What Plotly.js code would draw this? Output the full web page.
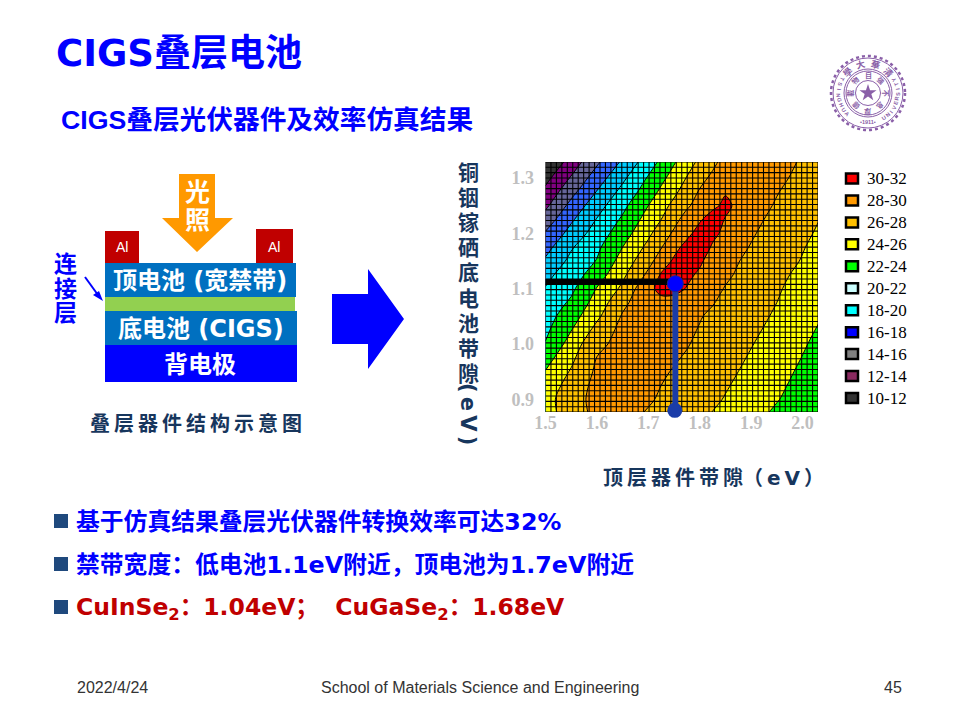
<!DOCTYPE html>
<html><head><meta charset="utf-8">
<script src="https://cdn.plot.ly/plotly-3.0.1.min.js"></script>
<style>html,body{margin:0;padding:0;background:#fff}#c{width:960px;height:720px}</style>
</head><body><div id="c"></div>
<script>
// ---- data ----
const topGap = [1.50,1.55,1.60,1.65,1.70,1.725,1.75,1.775,1.80,1.825,1.85,1.875,1.90,1.95,2.00,2.05];
const bottomGap = [0.85,0.90,0.95,1.00,1.05,1.075,1.10,1.125,1.15,1.175,1.20,1.225,1.25,1.275,1.30,1.35];
const efficiency = [
 [24.8,26.8,28.3,28.2,27.5,27.2,26.8,26.4,26.0,25.6,25.2,24.7,24.2,23.3,22.4,21.5],
 [25.0,27.6,28.3,28.4,28.2,27.8,27.4,27.1,26.7,26.3,25.9,25.5,25.0,24.1,23.2,22.3],
 [24.1,26.2,28.35,28.4,28.4,28.2,27.9,27.6,27.2,26.8,26.4,26.0,25.5,24.6,23.7,22.8],
 [22.1,24.8,27.7,28.4,28.8,28.7,28.4,28.1,27.7,27.4,27.0,26.5,26.1,25.1,24.2,23.2],
 [21.2,23.1,25.6,28.2,29.2,29.1,28.9,28.5,28.1,27.7,27.3,26.9,26.5,25.8,24.7,23.8],
 [20.7,22.3,24.8,27.5,29.5,29.6,29.3,28.9,28.6,28.1,27.6,27.2,26.8,26.0,25.0,24.1],
 [20.1,21.6,24.1,26.4,29.6,30.4,30.6,29.9,29.2,28.5,27.9,27.5,27.1,26.2,25.3,24.3],
 [19.5,21.0,23.0,25.6,28.4,30.2,31.0,30.4,29.7,29.0,28.3,27.8,27.3,26.4,25.6,24.6],
 [18.3,20.5,22.1,24.8,27.4,28.9,30.3,31.0,30.3,29.2,28.7,28.05,27.6,26.7,25.9,24.9],
 [17.3,19.8,21.6,24.0,26.5,27.9,29.4,30.6,31.0,29.8,29.1,28.4,27.9,27.0,26.1,25.2],
 [16.2,18.7,20.9,23.1,25.6,27.0,28.3,29.5,30.7,30.4,29.6,28.9,28.2,27.2,26.4,25.4],
 [14.9,17.7,20.1,22.3,24.8,26.0,27.4,28.8,29.8,30.8,29.9,29.2,28.5,27.5,26.6,25.7],
 [13.6,16.6,19.2,21.5,24.0,25.3,26.5,27.7,28.8,29.6,30.4,29.6,28.9,27.8,26.9,26.0],
 [12.5,15.4,18.1,20.6,23.0,24.4,25.6,26.9,28.2,29.1,29.85,29.75,29.3,28.1,27.1,26.2],
 [11.4,14.2,17.0,19.6,22.2,23.5,24.8,26.1,27.4,28.4,29.4,29.55,29.5,28.5,27.4,26.5],
 [ 9.0,11.8,14.7,17.4,20.2,21.6,23.1,24.4,25.7,26.9,28.1,28.5,28.8,28.8,28.0,27.1]
];
const bandColors = ['#333333','#800080','#666699','#3366ff','#00ccff','#00ffff','#00ff00','#ffff00','#ffc000','#ff9900','#ff0000'];
const legendLabels = ['30-32','28-30','26-28','24-26','22-24','20-22','18-20','16-18','14-16','12-14','10-12'];
const legendColors = ['#ff0000','#ff9900','#ffc000','#ffff00','#00ff00','#ccffff','#00ffff','#0000ff','#808080','#8a2a60','#333333'];
const xTicks = [1.5,1.6,1.7,1.8,1.9,2.0];
const yTicks = [0.9,1.0,1.1,1.2,1.3];
const optimumTop = 1.7525, optimumBottom = 1.109;
const yTitleChars = ['铜','铟','镓','硒','底','电','池','带','隙'];
const bullets = ['基于仿真结果叠层光伏器件转换效率可达32%','禁带宽度：低电池1.1eV附近，顶电池为1.7eV附近','CuInSe<sub>2</sub>：1.04eV；  CuGaSe<sub>2</sub>：1.68eV'];
const bulletColors = ['#0000ff','#0000ff','#c00000'];
const bulletSizes = [23.8,23.8,23.5];

// ---- helpers ----
const SANS = 'Liberation Sans, Noto Sans CJK SC, sans-serif';
const WIDE = 'DejaVu Sans, Noto Sans CJK SC, sans-serif';
const SERIF = 'Liberation Serif';
const px = x => x/960, py = y => 1-y/720;
const NAVY = '#17365d', PURPLE = '#8a5fa8';
const annotations = [], shapes = [];
function txt(x,y,text,size,color,o={}){
  annotations.push({xref:'paper',yref:'paper',x:px(x),y:py(y),text,showarrow:false,
    xanchor:o.xa||'center',yanchor:'middle',textangle:o.rot||0,borderpad:0,
    font:{family:o.fam||SANS,size,color,weight:o.w===undefined?700:o.w}});
}
function rect(x0,y0,x1,y1,fill,o={}){
  shapes.push({type:'rect',xref:'paper',yref:'paper',x0:px(x0),x1:px(x1),y0:py(y0),y1:py(y1),
    fillcolor:fill,line:{color:o.lc||fill,width:o.lw===undefined?0:o.lw},layer:'above'});
}
function poly(pts,fill){
  const d = pts.map((p,i)=>(i?'L':'M')+(p[0]/960)+' '+(1-p[1]/720)).join(' ')+' Z';
  shapes.push({type:'path',xref:'paper',yref:'paper',path:d,fillcolor:fill,line:{width:0},layer:'above'});
}
function circ(cx,cy,r,color,w,fill,dash){
  shapes.push({type:'circle',xref:'paper',yref:'paper',x0:px(cx-r),x1:px(cx+r),y0:py(cy+r),y1:py(cy-r),
    line:{color,width:w,dash:dash||'solid'},fillcolor:fill||'rgba(0,0,0,0)',layer:'above'});
}

// ---- slide text ----
txt(60,120,'CIGS叠层光伏器件及效率仿真结果',26.7,'#0000ff',{xa:'left'});
bullets.forEach((b,i)=>{
  const y=[522,565,608][i];
  rect(54,y-8,68,y+6,'#1f497d');
  txt(75,y,b,bulletSizes[i],bulletColors[i],{xa:'left',fam:WIDE});
});
txt(76,687,'2022/4/24',16,'#333333',{xa:'left',w:400});
txt(480,687,'School of Materials Science and Engineering',16,'#333333',{w:400});
txt(903,687,'45',16,'#333333',{xa:'right',w:400});

// ---- device sketch ----
rect(105,231,139,263,'#c00000');
rect(256,229,293,263,'#c00000');
rect(105,263,296,297,'#0070c0');
rect(105,297,295,311,'#92d050');
rect(105,311,297,345,'#0070c0');
rect(105,345,297,382,'#0000ff');
poly([[179,174],[215,174],[215,218],[233,218],[197,252],[162,218],[179,218]],'#ff9900');
txt(197,192,'光',25,'#ffffff');
txt(197,220,'照',25,'#ffffff');
txt(122,247,'Al',14,'#ffffff',{w:400});
txt(274,247,'Al',14,'#ffffff',{w:400});
txt(200,281,'顶电池 (宽禁带)',24,'#ffffff',{fam:WIDE});
txt(201,329,'底电池 (CIGS)',24,'#ffffff',{fam:WIDE});
txt(200,364,'背电极',24,'#ffffff');
txt(65,264,'连',23,'#0000ff');
txt(65,289,'接',23,'#0000ff');
txt(65,313,'层',23,'#0000ff');
shapes.push({type:'line',xref:'paper',yref:'paper',x0:px(85),y0:py(277),x1:px(98),y1:py(295),line:{color:'#0000ff',width:2},layer:'above'});
poly([[103,301],[93,295],[99,291]],'#0000ff');
txt(195.5,423,'叠\u2009层\u2009器\u2009件\u2009结\u2009构\u2009示\u2009意\u2009图',20,NAVY);
poly([[332,294],[368,294],[368,269],[404,319],[368,369],[368,344],[332,344]],'#0000ff');

// ---- axis titles ----
yTitleChars.forEach((c,i)=>txt(468,172+i*25.2,c,21,NAVY));
txt(468,414,'(\u2009e\u2009V\u2009)',21,NAVY,{rot:90,fam:WIDE});
txt(713,478,'顶\u2009层\u2009器\u2009件\u2009带\u2009隙（\u2009e\u2009V\u2009）',20,NAVY,{fam:WIDE});

// ---- legend ----
legendLabels.forEach((l,i)=>{
  const y=178.5+i*21.95;
  rect(846,y-5,858,y+5,legendColors[i],{lc:'#000000',lw:2.5});
  txt(866,y,l,17,'#000000',{xa:'left',fam:SERIF,w:400});
});

// ---- logo ----
const LX=868, LY=93;
circ(LX,LY,37,PURPLE,2.5,null,'dot');
circ(LX,LY,35,PURPLE,1);
circ(LX,LY,24,PURPLE,1);
circ(LX,LY,22,PURPLE,1);
circ(LX,LY,12.5,PURPLE,1);
const star=[];
for(let k=0;k<10;k++){const a=-Math.PI/2+k*Math.PI/5,r=k%2?3.5:9;star.push([LX+r*Math.cos(a),LY+r*Math.sin(a)]);}
poly(star,PURPLE);
const ringText=(chars,startDeg,stepDeg,r,size,rotOf)=>{
  [...chars].forEach((c,i)=>{const d=startDeg+i*stepDeg,a=d*Math.PI/180;
    txt(LX+r*Math.sin(a),LY-r*Math.cos(a),c,size,PURPLE,{rot:rotOf(d),w:700});});
};
ringText('學大華清',-45,30,29.5,9,d=>d);
ringText('自強不息厚德載物',0,45,17.3,7,d=>d);
ringText('TSINGHUA',298,-10.5,29.5,5.5,d=>d-180);
ringText('UNIVERSITY',148,-9.5,29.5,5.5,d=>d-180);
txt(LX,LY+29.5,'•1911•',5.5,PURPLE);

// ---- chart traces ----
const xR=[1.5,2.03], yR=[0.877,1.329];
const NX=50, NY=47;
const meshX=[], meshY=[];
for(let i=0;i<=NX;i++){const v=xR[0]+(xR[1]-xR[0])*i/NX; meshX.push(v,v,null); meshY.push(yR[0],yR[1],null);}
for(let j=0;j<=NY;j++){const v=yR[0]+(yR[1]-yR[0])*j/NY; meshX.push(xR[0],xR[1],null); meshY.push(v,v,null);}
const scale=[]; bandColors.forEach((c,i)=>{scale.push([i/11,c],[(i+1)/11,c]);});

const traces=[
 {type:'contour',x:topGap,y:bottomGap,z:efficiency,zmin:10,zmax:32,showscale:false,hoverinfo:'skip',
  colorscale:scale,contours:{coloring:'fill',start:12,end:30,size:2,showlines:true},
  line:{color:'#000000',width:1,smoothing:0.8}},
 {type:'scatter',mode:'lines',x:meshX,y:meshY,hoverinfo:'skip',line:{color:'#000000',width:1.1}},
 {type:'scatter',mode:'lines',x:[1.499,optimumTop],y:[1.112,1.112],cliponaxis:false,hoverinfo:'skip',line:{color:'#000000',width:6}},
 {type:'scatter',mode:'lines',x:[optimumTop,optimumTop],y:[optimumBottom,0.88],cliponaxis:false,hoverinfo:'skip',line:{color:'#1a3ca8',width:6}},
 {type:'scatter',mode:'markers',x:[optimumTop-0.001],y:[0.88],cliponaxis:false,hoverinfo:'skip',marker:{color:'#1a3ca8',size:15}},
 {type:'scatter',mode:'markers',x:[optimumTop],y:[optimumBottom],cliponaxis:false,hoverinfo:'skip',marker:{color:'#0000ff',size:16,line:{color:'#1a2a8a',width:1}}}
];
const tickFont={family:SERIF,size:18,color:'#bfbfbf',weight:700};
const layout={width:960,height:720,margin:{l:0,r:0,t:0,b:0},paper_bgcolor:'#ffffff',plot_bgcolor:'#ffffff',showlegend:false,
  title:{text:'CIGS叠层电池',x:px(56),xanchor:'left',xref:'paper',y:py(53),yanchor:'middle',yref:'container',font:{family:WIDE,size:37,color:'#0000ff',weight:700}},
  xaxis:{domain:[px(545.5),px(818)],range:xR,tickvals:xTicks,ticktext:xTicks.map(v=>v.toFixed(1)),ticks:'',ticklabelstandoff:-2,tickfont:tickFont,showgrid:false,zeroline:false,showline:false},
  yaxis:{domain:[py(412),py(162)],range:yR,tickvals:yTicks,ticktext:yTicks.map(v=>v.toFixed(1)),ticks:'outside',ticklen:7,tickcolor:'rgba(0,0,0,0)',tickfont:tickFont,showgrid:false,zeroline:false,showline:false},
  annotations,shapes};
Plotly.newPlot('c',traces,layout,{displayModeBar:false,staticPlot:true});
</script></body></html>
